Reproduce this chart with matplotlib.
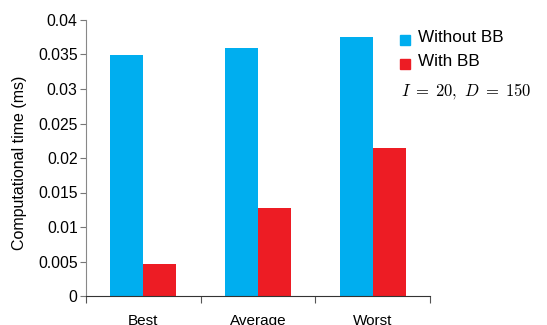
import matplotlib
matplotlib.use("Agg")
import matplotlib.pyplot as plt
import numpy as np
from matplotlib.patches import Rectangle

plt.rcParams['font.family'] = ['Liberation Sans', 'DejaVu Sans']
plt.rcParams['mathtext.fontset'] = 'cm'

categories = ["Best", "Average", "Worst"]
without_bb = [0.0349, 0.0359, 0.0376]
with_bb = [0.0047, 0.0128, 0.0214]
series_labels = ["Without BB", "With BB"]
y_ticks = [0, 0.005, 0.01, 0.015, 0.02, 0.025, 0.03, 0.035, 0.04]
y_tick_labels = ["0", "0.005", "0.01", "0.015", "0.02", "0.025", "0.03", "0.035", "0.04"]

blue = "#00AEEF"
red = "#ED1C24"

W, H = 547, 325
fig = plt.figure(figsize=(W/100, H/100), dpi=100)
ax = fig.add_axes([86/W, 1 - 296/H, (430 - 86)/W, (296 - 20)/H])

x = np.arange(len(categories)) + 0.5
w = 0.287
ax.bar(x - w/2, without_bb, width=w, color=blue, edgecolor="none")
ax.bar(x + w/2, with_bb, width=w, color=red, edgecolor="none")

ax.set_xlim(0, 3)
ax.set_ylim(0, 0.04)
ax.set_xticks([0, 1, 2, 3])
ax.set_xticklabels([])
ax.set_xticks(x, minor=True)
ax.set_xticklabels(categories, minor=True)
ax.tick_params(axis='x', which='minor', length=0, pad=13, labelsize=11)
ax.tick_params(axis='x', which='major', length=5, direction='out', color='#555555')
ax.set_yticks(y_ticks)
ax.set_yticklabels(y_tick_labels)
ax.tick_params(axis='y', length=4, direction='out', labelsize=11.3, pad=2, color='#777777')

for s in ["top", "right"]:
    ax.spines[s].set_visible(False)
ax.spines["left"].set_color("#888888")
ax.spines["bottom"].set_color("#333333")

ax.set_ylabel("Computational time (ms)", fontsize=11.5)
ax.yaxis.set_label_coords(27/W, 0.5, transform=fig.transFigure)

# legend drawn as squares with labels to the right of the axes
for i, (lab, col) in enumerate(zip(series_labels, [blue, red])):
    cy = 40 + i*23.5
    fig.patches.append(Rectangle((400/W, 1 - (cy + 5)/H), 10/W, 10/H,
                                 transform=fig.transFigure, color=col))
    fig.text(418/W, 1 - (cy - 2)/H, lab, fontsize=12.3, va="center", ha="left")

fig.text(401/W, 1 - 91/H, r"$I\;=\;20,\ D\;=\;150$", fontsize=12,
         va="center", ha="left")

fig.savefig("out.png", dpi=100)
